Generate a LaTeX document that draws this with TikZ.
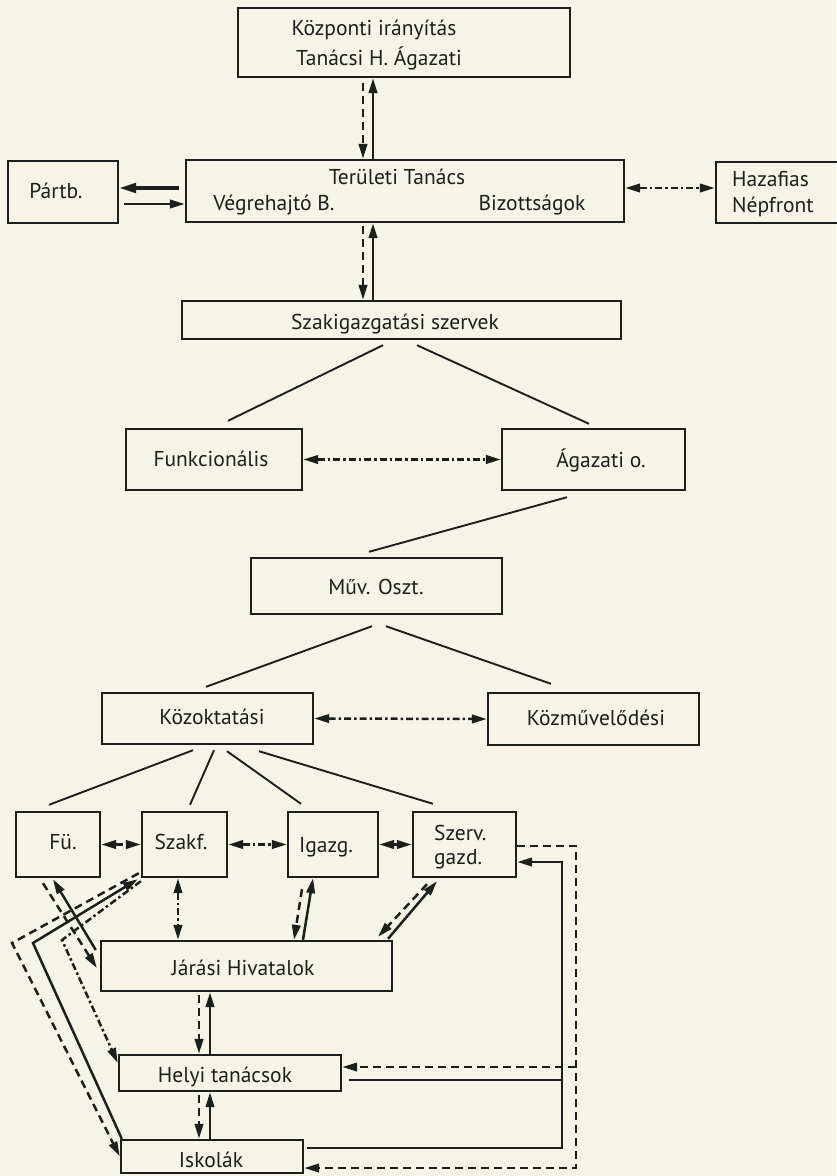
\documentclass[tikz,border=0pt]{standalone}
\usepackage{fontspec}
\setmainfont{PT Sans}
\usetikzlibrary{arrows.meta}
\definecolor{paper}{RGB}{246,244,230}
\definecolor{ink}{RGB}{28,32,28}
\begin{document}
\begin{tikzpicture}[x=1pt,y=-1pt,
  >={Triangle[length=15pt,width=8.5pt]},
  bx/.style={draw=ink,line width=2.4pt,inner sep=0pt,fill=none},
  lbl/.style={inner sep=0pt,text=ink,font=\fontsize{21.5}{24}\selectfont,anchor=mid,yshift=-4pt},
  lblw/.style={lbl,anchor=mid west},
  ln/.style={draw=ink,line width=1.9pt},
  sline/.style={draw=ink,line width=2.5pt},
  dline/.style={draw=ink,line width=2.5pt,dash pattern=on 8pt off 5pt},
  ddline/.style={draw=ink,line width=2.5pt,dash pattern=on 7pt off 3pt on 2.5pt off 3pt},
  sarr/.style={sline,->},
  darr/.style={dline,->},
  ddarr/.style={ddline,<->},
  thickarr/.style={draw=ink,line width=3.6pt,-{Triangle[length=17pt,width=9.5pt]}}
]
\useasboundingbox (0,0) rectangle (836,1176);
\fill[paper] (0,0) rectangle (836,1176);

% boxes
\node[bx,minimum width=332pt,minimum height=69pt] (kozp) at (404,42.5) {};
\node[bx,minimum width=438pt,minimum height=62pt] (ter) at (405,191) {};
\node[bx,minimum width=110pt,minimum height=62pt] (partb) at (63,192) {};
\node[bx,minimum width=134pt,minimum height=61pt] (haza) at (783,192.5) {};
\node[bx,minimum width=439pt,minimum height=38pt] (szak) at (401.5,320) {};
\node[bx,minimum width=176pt,minimum height=61pt] (funk) at (214,459.5) {};
\node[bx,minimum width=183pt,minimum height=61pt] (agaz) at (593.5,459.5) {};
\node[bx,minimum width=251pt,minimum height=56pt] (muv) at (376.5,586) {};
\node[bx,minimum width=211pt,minimum height=51pt] (kozokt) at (207.5,718.5) {};
\node[bx,minimum width=211pt,minimum height=52pt] (kozmuv) at (593.5,719) {};
\node[bx,minimum width=84pt,minimum height=65pt] (fu) at (58,844.5) {};
\node[bx,minimum width=85pt,minimum height=65pt] (szakf) at (184.5,844.5) {};
\node[bx,minimum width=90pt,minimum height=65pt] (igazg) at (333,844.5) {};
\node[bx,minimum width=103pt,minimum height=65pt] (szerv) at (464.5,844.5) {};
\node[bx,minimum width=291pt,minimum height=50pt] (jar) at (246.5,966) {};
\node[bx,minimum width=222pt,minimum height=36pt] (helyi) at (230,1073) {};
\node[bx,minimum width=182pt,minimum height=33pt] (isk) at (212,1156.5) {};

% labels
\node[lbl] (tkozp1) at (374,29) {Központi irányítás};
\node[lbl] (tkozp2) at (379,59) {Tanácsi H. Ágazati};
\node[lbl] (tter1) at (397,178) {Területi Tanács};
\node[lbl] (tter2) at (274,204) {Végrehajtó B.};
\node[lbl] (tter3) at (532,204) {Bizottságok};
\node[lbl] (tpartb) at (56,192) {Pártb.};
\node[lblw] (thaza1) at (732,180) {Hazafias};
\node[lblw] (thaza2) at (732,206) {Népfront};
\node[lbl] (tszak) at (395,323) {Szakigazgatási szervek};
\node[lbl] (tfunk) at (211,460) {Funkcionális};
\node[lbl] (tagaz) at (601,461) {Ágazati o.};
\node[lbl] (tmuv) at (376,588) {Műv. Oszt.};
\node[lbl] (tkozokt) at (212,718) {Közoktatási};
\node[lbl] (tkozmuv) at (596,719) {Közművelődési};
\node[lbl] (tfu) at (63,843) {Fü.};
\node[lbl] (tszakf) at (181,843) {Szakf.};
\node[lbl] (tigazg) at (326,846) {Igazg.};
\node[lblw] (tszerv1) at (434,834) {Szerv.};
\node[lblw] (tszerv2) at (434,858) {gazd.};
\node[lbl] (tjar) at (243,969) {Járási Hivatalok};
\node[lbl] (thelyi) at (225,1076) {Helyi tanácsok};
\node[lbl] (tisk) at (211,1161) {Iskolák};

% top vertical pairs
\draw[darr] ([xshift=-41pt,yshift=-5pt]kozp.south) -- ([xshift=-42pt]ter.north);
\draw[sarr] ([xshift=-32pt]ter.north) -- ([xshift=-31pt]kozp.south);
\draw[darr] ([xshift=-42pt,yshift=-3pt]ter.south) -- ([xshift=-38.5pt]szak.north);
\draw[sarr] ([xshift=-28.5pt]szak.north) -- ([xshift=-32pt]ter.south);

% Partb and Hazafias
\draw[thickarr] ([xshift=-6pt,yshift=3pt]ter.west) -- ([yshift=4pt]partb.east);
\draw[sarr] ([xshift=5pt,yshift=-12pt]partb.east) -- ([yshift=-13pt]ter.west);
\draw[ddarr] ([yshift=3pt]ter.east) -- ([yshift=4.5pt]haza.west);

% tree
\draw[ln] ([xshift=-18.5pt,yshift=-5pt]szak.south) -- ([xshift=14pt,yshift=7pt]funk.north);
\draw[ln] ([xshift=15.5pt,yshift=-5pt]szak.south) -- ([xshift=-4.5pt,yshift=4pt]agaz.north);
\draw[ddarr] (funk.east) -- (agaz.west);
\draw[ln] ([xshift=-26.5pt,yshift=-6pt]agaz.south) -- ([xshift=-7.5pt,yshift=5pt]muv.north);
\draw[ln] ([xshift=-4.5pt,yshift=-11pt]muv.south) -- ([xshift=-1.5pt,yshift=5pt]kozokt.north);
\draw[ln] ([xshift=9.5pt,yshift=-11pt]muv.south) -- ([xshift=-42.5pt,yshift=8pt]kozmuv.north);
\draw[ddarr] (kozokt.east) -- (kozmuv.west);
\draw[ln] ([xshift=-14.5pt,yshift=-5pt]kozokt.south) -- ([xshift=-9pt,yshift=6pt]fu.north);
\draw[ln] ([xshift=6.5pt,yshift=-5pt]kozokt.south) -- ([xshift=5.5pt,yshift=6pt]szakf.north);
\draw[ln] ([xshift=19.5pt,yshift=-6pt]kozokt.south) -- ([xshift=-32pt,yshift=7pt]igazg.north);
\draw[ln] ([xshift=51.5pt,yshift=-6pt]kozokt.south) -- ([xshift=-31.5pt,yshift=7pt]szerv.north);

% bottom row links
\draw[ddarr] (fu.east) -- (szakf.west);
\draw[ddarr] (szakf.east) -- (igazg.west);
\draw[ddarr] (igazg.east) -- (szerv.west);
\draw[ddarr] ([xshift=-6.5pt]szakf.south) -- ([xshift=-68.5pt]jar.north);
\draw[darr] ([xshift=-31pt,yshift=-11pt]igazg.south) -- ([xshift=47.5pt]jar.north);
\draw[sarr] ([xshift=56.5pt]jar.north) -- ([xshift=-20pt]igazg.south);
\draw[darr] ([xshift=-37.5pt,yshift=-6pt]szerv.south) -- ([xshift=131.5pt,yshift=3pt]jar.north);
\draw[sarr] ([xshift=141.5pt,yshift=1pt]jar.north) -- ([xshift=-27.5pt,yshift=-3pt]szerv.south);
\draw[darr] ([xshift=-15pt,yshift=-5pt]fu.south) -- ([xshift=-3pt,yshift=-2pt]jar.west);
\draw[sarr] ([xshift=-4pt,yshift=16pt]jar.west) -- ([xshift=-5pt,yshift=-1pt]fu.south);

% left loops
\coordinate (cA) at (12,943);
\coordinate (cB) at (33,943);
\coordinate (cC) at (62,940);
\draw[darr] ([xshift=-2pt,yshift=5pt]szakf.south west) -- (cA) -- (isk.west);
\draw[sarr] ([xshift=2pt]isk.north west) -- (cB) -- ([xshift=-3pt,yshift=-1pt]szakf.south west);
\draw[ddline,->] ([yshift=-3pt]szakf.south west) -- (cC) -- ([yshift=10pt]helyi.west);

% vertical chain
\draw[darr] ([xshift=-47.5pt,yshift=-3pt]jar.south) -- ([xshift=-31pt]helyi.north);
\draw[sarr] ([xshift=-20pt]helyi.north) -- ([xshift=-36.5pt]jar.south);
\draw[darr] ([xshift=-31pt,yshift=-3pt]helyi.south) -- ([xshift=-13pt]isk.north);
\draw[sarr] ([xshift=-2pt]isk.north) -- ([xshift=-20pt]helyi.south);

% right side
\coordinate (rD1) at (576,846);
\coordinate (rD2) at (576,1168);
\coordinate (rD3) at (576,1067);
\coordinate (rS1) at (562,862);
\coordinate (rS2) at (562,1148);
\coordinate (rS3) at (562,1080);
\draw[darr] ([yshift=-1.5pt]szerv.east) -- (rD1) -- (rD2) -- ([yshift=-11.5pt]isk.east);
\draw[darr] (rD3) -- ([yshift=6pt]helyi.east);
\draw[sarr] ([xshift=3pt,yshift=8.5pt]isk.east) -- (rS2) -- (rS1) -- ([yshift=-17.5pt]szerv.east);
\draw[sline] ([xshift=7pt,yshift=-7pt]helyi.east) -- (rS3);
\end{tikzpicture}
\end{document}
